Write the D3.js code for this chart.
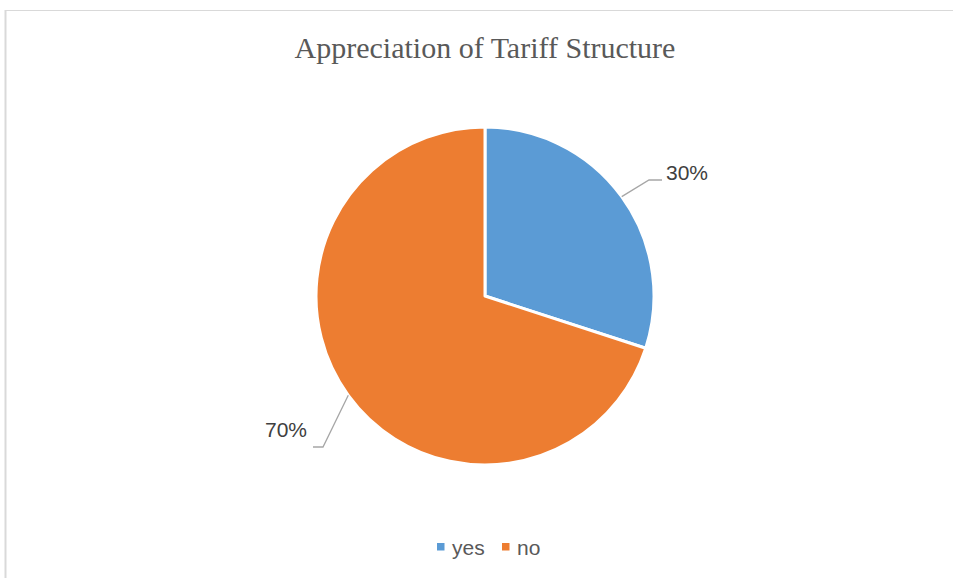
<!DOCTYPE html>
<html>
<head>
<meta charset="utf-8">
<script src="https://cdn.jsdelivr.net/npm/d3@7"></script>
<style>
  html, body { margin: 0; padding: 0; background: #ffffff; }
  svg { display: block; }
</style>
</head>
<body>
<svg id="chart" width="953" height="578"></svg>
<script>
// Survey answers and their shares
const categories = ["yes", "no"];
const values = [30, 70];
const valueLabels = ["30%", "70%"];
const chartTitle = "Appreciation of Tariff Structure";

const colors = ["#5B9BD5", "#ED7D31"];

const W = 953, H = 578;
const cx = 485, cy = 296, radius = 169;

// Leader-line geometry for each data label, relative to the pie centre
const labelLayout = [
  { knee: [164, -116], end: [177, -116], text: [181, -116], anchor: "start" },
  { knee: [-162, 151], end: [-172, 151], text: [-178, 141], anchor: "end" }
];

const svg = d3.select("#chart");

// Chart frame
svg.append("line").attr("x1", 5).attr("y1", 10.5).attr("x2", W).attr("y2", 10.5)
  .attr("stroke", "#d9d9d9").attr("stroke-width", 1);
svg.append("line").attr("x1", 5.5).attr("y1", 10).attr("x2", 5.5).attr("y2", H)
  .attr("stroke", "#d9d9d9").attr("stroke-width", 2);

// Title
svg.append("text")
  .attr("x", cx).attr("y", 58)
  .attr("text-anchor", "middle")
  .attr("font-family", "'Liberation Serif', 'Times New Roman', serif")
  .attr("font-size", 30)
  .attr("fill", "#595959")
  .text(chartTitle);

const pie = d3.pie().sort(null).value(d => d)(values);
const arc = d3.arc().innerRadius(0).outerRadius(radius);
const edge = d3.arc().innerRadius(radius).outerRadius(radius);

const g = svg.append("g").attr("transform", `translate(${cx},${cy})`);

g.selectAll("path.slice")
  .data(pie)
  .join("path")
  .attr("class", "slice")
  .attr("d", arc)
  .attr("fill", (d, i) => colors[i])
  .attr("stroke", "#ffffff")
  .attr("stroke-width", 3)
  .attr("stroke-linejoin", "round");

// Leader lines
g.selectAll("polyline.leader")
  .data(pie)
  .join("polyline")
  .attr("class", "leader")
  .attr("points", (d, i) => {
    const s = edge.centroid(d);
    const L = labelLayout[i];
    return [s, L.knee, L.end].map(p => p.join(",")).join(" ");
  })
  .attr("fill", "none")
  .attr("stroke", "#a6a6a6")
  .attr("stroke-width", 1.3);

// Data labels
g.selectAll("text.value")
  .data(pie)
  .join("text")
  .attr("class", "value")
  .attr("x", (d, i) => labelLayout[i].text[0])
  .attr("y", (d, i) => labelLayout[i].text[1])
  .attr("text-anchor", (d, i) => labelLayout[i].anchor)
  .attr("font-family", "'Liberation Sans', Arial, sans-serif")
  .attr("font-size", 21)
  .attr("fill", "#404040")
  .text((d, i) => valueLabels[i]);

// Legend
const legendX = [437, 502];
const legend = svg.append("g");
const items = legend.selectAll("g")
  .data(categories)
  .join("g")
  .attr("transform", (d, i) => `translate(${legendX[i]},543)`);
items.append("rect")
  .attr("width", 7.5).attr("height", 7.5)
  .attr("fill", (d, i) => colors[i]);
items.append("text")
  .attr("x", 15).attr("y", 12)
  .attr("font-family", "'Liberation Sans', Arial, sans-serif")
  .attr("font-size", 21)
  .attr("fill", "#595959")
  .text(d => d);
</script>
</body>
</html>
